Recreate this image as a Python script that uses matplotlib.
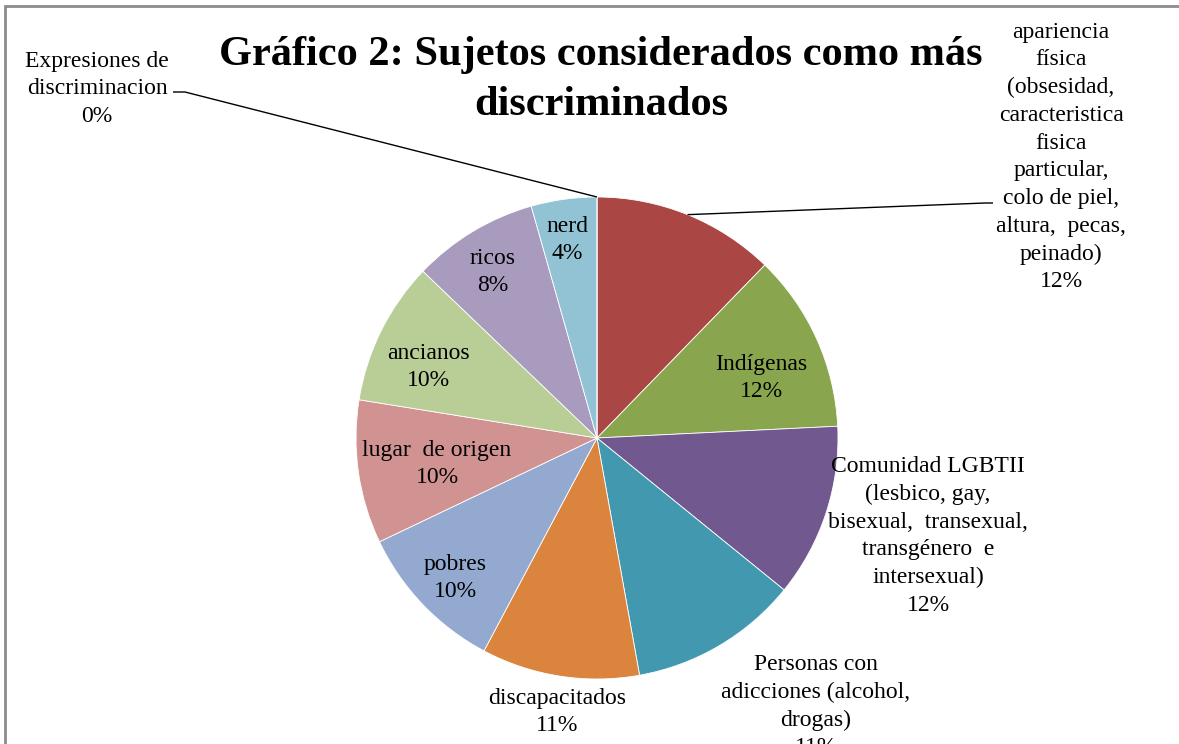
import matplotlib
matplotlib.use("Agg")
import matplotlib.pyplot as plt
import numpy as np
from matplotlib.patches import Rectangle

# ---- data ----
categories = [
    "apariencia\nfísica\n(obsesidad,\ncaracteristica\nfisica\nparticular,\ncolo de piel,\naltura,  pecas,\npeinado)",
    "Indígenas",
    "Comunidad LGBTII\n(lesbico, gay,\nbisexual,  transexual,\ntransgénero  e\nintersexual)",
    "Personas con\nadicciones (alcohol,\ndrogas)",
    "discapacitados",
    "pobres",
    "lugar  de origen",
    "ancianos",
    "ricos",
    "nerd",
    "Expresiones de\ndiscriminacion",
]
values = [12.26, 11.96, 11.63, 11.32, 10.59, 10.15, 9.62, 9.62, 8.44, 4.40, 0.0]
colors = ["#AA4643", "#89A54E", "#71588F", "#4198AF", "#DB843D", "#93A9CF",
          "#D19392", "#B9CD96", "#A99BBD", "#92C3D4", "#4572A7"]
title = "Gráfico 2: Sujetos considerados como más\ndiscriminados"

# ---- layout (pixel coordinates, y from top) ----
W, H = 1179, 744
center_px = (597, 438)
radius_px = 241
label_pos = [(1061, 157), (761, 378), (928, 536), (816, 706), (557, 712),
             (455, 578), (437, 464), (428, 367), (493, 272), (567, 240), (97, 89)]
leaders = {0: [(985, 203), (993, 203)], 10: [(185, 92), (173, 92)]}

def Y(py):
    return H - py

fig = plt.figure(figsize=(W / 100, H / 100), dpi=100)
ax = fig.add_axes([0, 0, 1, 1])
wedges, _ = ax.pie(values, colors=colors, startangle=90, counterclock=False,
                   center=(center_px[0], Y(center_px[1])), radius=radius_px,
                   wedgeprops=dict(edgecolor="white", linewidth=0.6))
ax.set_xlim(0, W)
ax.set_ylim(0, H)
ax.set_aspect("auto")
ax.axis("off")

font = "Liberation Serif"
for i, (cat, v) in enumerate(zip(categories, values)):
    x, y = label_pos[i]
    ax.text(x, Y(y), f"{cat}\n{v:.0f}%", ha="center", va="center",
            fontsize=17, family=font, linespacing=1.42, color="#000000")

# leader lines from wedge edge (mid-angle) to label
for i, pts in leaders.items():
    w = wedges[i]
    ang = np.deg2rad((w.theta1 + w.theta2) / 2)
    cx, cy = w.center
    sx = cx + w.r * np.cos(ang)
    sy = cy + w.r * np.sin(ang)
    xs = [sx] + [p[0] for p in pts]
    ys = [sy] + [Y(p[1]) for p in pts]
    ax.plot(xs, ys, color="#000000", lw=1.0, solid_capstyle="butt")

ax.text(601, Y(80), title, ha="center", va="center", fontsize=30.5,
        family=font, fontweight="bold", linespacing=1.39)

# chart border (top and left visible)
ax.add_patch(Rectangle((5, -20), W + 50, Y(6) + 20, fill=False,
                       edgecolor="#8C8C8C", linewidth=2, clip_on=False))

fig.savefig("out.png", dpi=100)
